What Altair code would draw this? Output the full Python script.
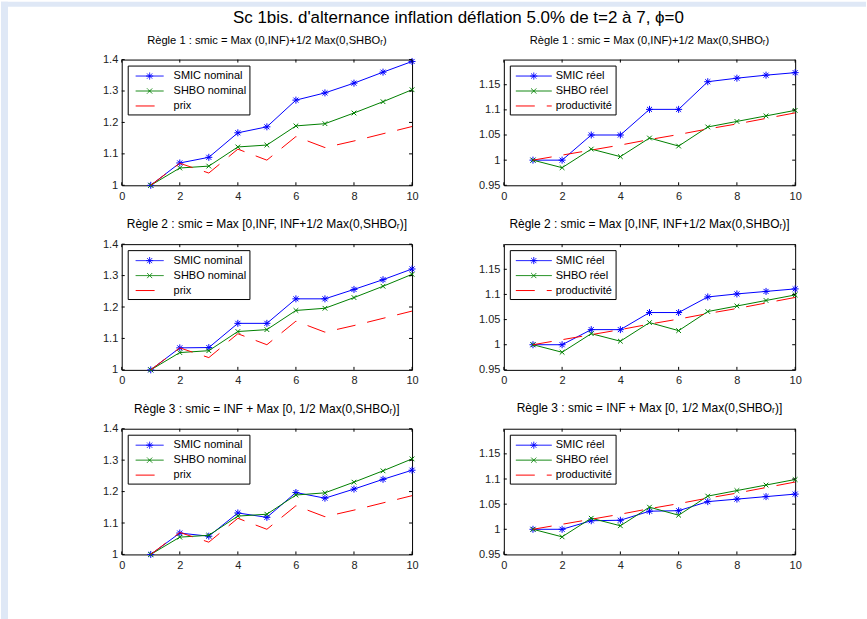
import altair as alt
import pandas as pd

# ---------------- data ----------------
t = [1, 2, 3, 4, 5, 6, 7, 8, 9, 10]

prix = [1.0, 1.07, 1.039, 1.115, 1.080, 1.155, 1.12, 1.141, 1.164, 1.187]
productivite = [1.0, 1.01, 1.020, 1.030, 1.041, 1.051, 1.062, 1.072, 1.083, 1.094]

shbo_nominal = [1.0, 1.055, 1.061, 1.122, 1.128, 1.189, 1.196, 1.230, 1.266, 1.304]
shbo_reel = [1.0, 0.985, 1.022, 1.007, 1.044, 1.028, 1.066, 1.077, 1.088, 1.099]

smic_nominal_r1 = [1.0, 1.071, 1.089, 1.167, 1.186, 1.271, 1.294, 1.325, 1.360, 1.394]
smic_reel_r1 = [1.0, 1.0, 1.050, 1.050, 1.101, 1.101, 1.156, 1.163, 1.169, 1.174]
smic_nominal_r2 = [1.0, 1.070, 1.071, 1.148, 1.148, 1.226, 1.226, 1.256, 1.287, 1.321]
smic_reel_r2 = [1.0, 1.0, 1.030, 1.030, 1.064, 1.064, 1.095, 1.101, 1.106, 1.111]
smic_nominal_r3 = [1.0, 1.068, 1.058, 1.132, 1.118, 1.197, 1.179, 1.208, 1.239, 1.268]
smic_reel_r3 = [1.0, 1.0, 1.017, 1.018, 1.036, 1.037, 1.055, 1.060, 1.065, 1.070]

names_nominal = ["SMIC nominal", "SHBO nominal", "prix"]
names_reel = ["SMIC réel", "SHBO réel", "productivité"]

panel_titles = [
    "Règle 1 : smic = Max (0,INF)+1/2 Max(0,SHBOᵣ)",
    "Règle 1 : smic = Max (0,INF)+1/2 Max(0,SHBOᵣ)",
    "Règle 2 : smic = Max [0,INF, INF+1/2 Max(0,SHBOᵣ)]",
    "Règle 2 : smic = Max [0,INF, INF+1/2 Max(0,SHBOᵣ)]",
    "Règle 3 : smic = INF + Max [0, 1/2 Max(0,SHBOᵣ)]",
    "Règle 3 : smic = INF + Max [0, 1/2 Max(0,SHBOᵣ)]",
]
main_title = "Sc 1bis. d'alternance inflation déflation 5.0% de t=2 à 7, ϕ=0"

x_ticks = [0, 2, 4, 6, 8, 10]
y_ticks_nominal = [1, 1.1, 1.2, 1.3, 1.4]
y_ticks_reel = [0.95, 1, 1.05, 1.1, 1.15]

# ---------------- style ----------------
FONT = "Liberation Sans"
BLUE, GREEN, RED = "#0000ff", "#008000", "#ff0000"
COLORS = [BLUE, GREEN, RED]
DASH = [19, 12]
BG = "#dfe8f6"
W_L, W_R, H = 291, 292, 126
TICK = 3


def line_path(s, e):
    return f"M{s},0H{e}"


def star_path(cx, r):
    d = round(r * 0.72, 3)
    return (f"M{cx - r},0H{cx + r}M{cx},{-r}V{r}"
            f"M{cx - d},{-d}L{cx + d},{d}M{cx - d},{d}L{cx + d},{-d}")


def x_path(cx, r):
    return f"M{cx - r},{-r}L{cx + r},{r}M{cx - r},{r}L{cx + r},{-r}"


def panel(title, names, values, ydom, yticks, width, lg, strips=False, title_offset=4, title_size=12):
    rows = []
    for name, vals in zip(names, values):
        for tt, v in zip(t, vals):
            rows.append({"t": tt, "serie": name, "v": v})
    df = pd.DataFrame(rows)

    xs = alt.Scale(domain=[0, 10], nice=False, zero=False)
    ys = alt.Scale(domain=ydom, nice=False, zero=False)
    xax = alt.Axis(values=x_ticks, ticks=False, tickSize=0, domain=False, grid=False,
                   labelPadding=5, format=".2~f", title=None, labelFlush=False,
                   labelFontSize=11, labelFont=FONT, labelColor="#222222", zindex=1)
    yax = alt.Axis(values=yticks, ticks=False, tickSize=0, domain=False, grid=False,
                   labelPadding=4, format=".2~f", title=None, labelFlush=False,
                   labelFontSize=11, labelFont=FONT, labelColor="#222222", zindex=1)
    X = alt.X("t:Q", scale=xs, axis=xax)
    Y = alt.Y("v:Q", scale=ys, axis=yax)

    base = alt.Chart(df)
    layers = []

    # legend carrier (no marks drawn; legend only)
    s, e, m = lg
    shapes = [line_path(s, e) + star_path(m, 0.5),
              line_path(s, e) + x_path(m, 0.36),
              line_path(s, e)]
    legend = alt.Legend(title=None, orient="top-left", offset=6, fillColor="white",
                        strokeColor="black", padding=3, cornerRadius=0, rowPadding=2,
                        symbolSize=196, symbolStrokeWidth=1, symbolFillColor="transparent",
                        labelOffset=28, labelFontSize=11, labelFont=FONT,
                        labelColor="black", zindex=1)
    layers.append(
        base.transform_filter("datum.t < 0").mark_point(filled=False, strokeWidth=1, opacity=1).encode(
            x=X, y=Y,
            color=alt.Color("serie:N", scale=alt.Scale(domain=names, range=COLORS), legend=legend),
            shape=alt.Shape("serie:N", scale=alt.Scale(domain=names, range=shapes), legend=legend),
            strokeDash=alt.StrokeDash("serie:N", scale=alt.Scale(domain=names, range=[[1, 0], [1, 0], DASH]),
                                      legend=legend),
        )
    )

    # series
    for i, name in enumerate(names):
        sub = base.transform_filter(alt.datum.serie == name)
        if i < 2:
            layers.append(sub.mark_line(color=COLORS[i], strokeWidth=1).encode(x=X, y=Y))
            shp = star_path(0, 1) if i == 0 else x_path(0, 1)
            size = 49 if i == 0 else 22
            layers.append(sub.mark_point(shape=shp, size=size, filled=False, color=COLORS[i],
                                         strokeWidth=1, opacity=1).encode(x=X, y=Y))
        else:
            layers.append(sub.mark_line(color=COLORS[i], strokeWidth=1, strokeDash=DASH).encode(x=X, y=Y))

    # inner ticks (MATLAB style, on all four sides)
    xt = alt.Chart(pd.DataFrame({"t": x_ticks}))
    yt = alt.Chart(pd.DataFrame({"v": yticks}))
    layers.append(xt.mark_rule(color="black", strokeWidth=1).encode(x=X, y=alt.value(H), y2=alt.value(H - TICK)))
    layers.append(xt.mark_rule(color="black", strokeWidth=1).encode(x=X, y=alt.value(0), y2=alt.value(TICK)))
    layers.append(yt.mark_rule(color="black", strokeWidth=1).encode(y=Y, x=alt.value(0), x2=alt.value(TICK)))
    layers.append(yt.mark_rule(color="black", strokeWidth=1).encode(y=Y, x=alt.value(width), x2=alt.value(width - TICK)))

    if strips:
        one = alt.Chart(pd.DataFrame({"k": [0]}))
        layers.append(one.mark_rect(color=BG, strokeWidth=0).encode(
            x=alt.value(-121), x2=alt.value(-114), y=alt.value(-58), y2=alt.value(561)))
        layers.append(one.mark_rect(color=BG, strokeWidth=0).encode(
            x=alt.value(-121), x2=alt.value(746), y=alt.value(-58), y2=alt.value(-53)))

    return alt.layer(*layers).properties(
        width=width, height=H,
        title=alt.TitleParams(title, fontSize=title_size, font=FONT, fontWeight="normal", color="black",
                              anchor="middle", frame="group", baseline="alphabetic",
                              offset=title_offset),
    )


lg_nom = (-0.36, 3.64, 1.64)
lg_reel = (-0.64, 4.5, 1.93)

p1 = panel(panel_titles[0], names_nominal, [smic_nominal_r1, shbo_nominal, prix], [1, 1.4],
           y_ticks_nominal, W_L, lg_nom, strips=True, title_offset=-54, title_size=11.2)
p2 = panel(panel_titles[1], names_reel, [smic_reel_r1, shbo_reel, productivite], [0.95, 1.2],
           y_ticks_reel, W_R, lg_reel, title_size=11.2)
p3 = panel(panel_titles[2], names_nominal, [smic_nominal_r2, shbo_nominal, prix], [1, 1.4],
           y_ticks_nominal, W_L, lg_nom, title_offset=-2)
p4 = panel(panel_titles[3], names_reel, [smic_reel_r2, shbo_reel, productivite], [0.95, 1.2],
           y_ticks_reel, W_R, lg_reel)
p5 = panel(panel_titles[4], names_nominal, [smic_nominal_r3, shbo_nominal, prix], [1, 1.4],
           y_ticks_nominal, W_L, lg_nom, title_offset=-2)
p6 = panel(panel_titles[5], names_reel, [smic_reel_r3, shbo_reel, productivite], [0.95, 1.2],
           y_ticks_reel, W_R, lg_reel)

chart = alt.concat(
    p1, p2, p3, p4, p5, p6, columns=2, bounds="flush",
    spacing=alt.RowColnumber(row=59, column=92),
).resolve_scale(
    color="independent", shape="independent", strokeDash="independent", x="independent", y="independent"
).resolve_legend(
    color="independent", shape="independent", strokeDash="independent"
).properties(
    title=alt.TitleParams(main_title, fontSize=17, font=FONT, fontWeight="normal", color="black",
                          anchor="middle", frame="bounds", baseline="alphabetic", offset=-39, dx=25),
    padding=0,
    background="white",
).configure_view(stroke="black", strokeWidth=1)

chart.save("out.html", embed_options={"renderer": "svg", "actions": False})
